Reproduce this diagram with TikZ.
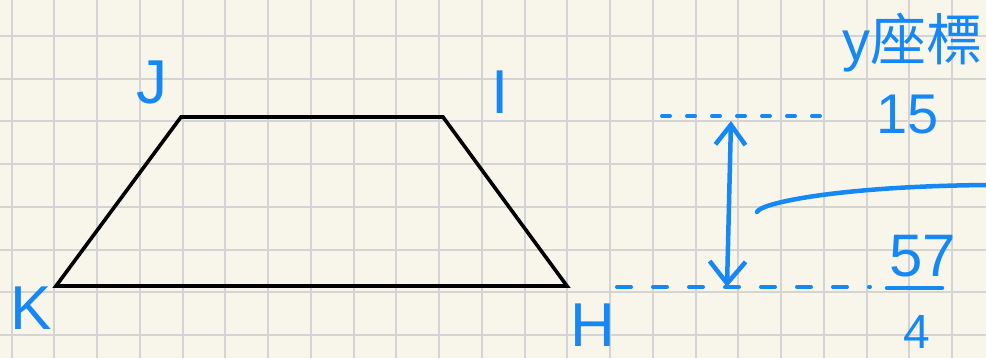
\documentclass[tikz,border=0pt]{standalone}
\usepackage{fontspec}
\setmainfont{Liberation Sans}
\newfontfamily\cjkfont{Noto Sans CJK TC}
\usetikzlibrary{arrows.meta}
\definecolor{paper}{RGB}{248,246,234}
\definecolor{gridc}{RGB}{212,212,212}
\definecolor{pen}{RGB}{22,136,245}
\begin{document}
\begin{tikzpicture}[x=1pt,y=-1pt,
  lbl/.style={text=pen, font=\fontsize{62}{62}\selectfont, inner sep=0pt},
  num/.style={text=pen, font=\fontsize{56}{56}\selectfont, inner sep=0pt},
  penline/.style={draw=pen, line width=4.5pt, line cap=round, line join=round},
  gridline/.style={draw=gridc, line width=2pt},
  shapeline/.style={draw=black, line width=3.6pt}]
\fill[paper] (0,0) rectangle (986,358);
\useasboundingbox (0,0) rectangle (986,358);
% grid
\foreach \k in {0,...,22} \draw[gridline] ({11.7+42.75*\k},0) -- ({11.7+42.75*\k},358);
\foreach \k in {0,...,7} \draw[gridline] (0,{36+42.75*\k}) -- (986,{36+42.75*\k});
% trapezoid
\coordinate (K) at (56,286);
\coordinate (J) at (181,117);
\coordinate (I) at (443,117);
\coordinate (H) at (567,286);
\draw[shapeline] (K) -- (J) -- (I) -- (H) -- cycle;
% vertex labels
\node[lbl] (lJ) at (152,82) {J};
\node[lbl] (lI) at (500,92) {I};
\node[lbl] (lK) at (31,308) {K};
\node[lbl] (lH) at (593,325) {H};
% heading
\node[text=pen, inner sep=0pt, font=\fontsize{56}{56}\selectfont] (head) at (912,43) {y\cjkfont 座標};
% dashed levels
\coordinate (d1a) at (662,116);
\coordinate (d1b) at (823,116);
\draw[penline, line width=4pt, dash pattern=on 8pt off 17pt] (d1a) -- (d1b);
\coordinate (d2a) at (617,287);
\coordinate (d2b) at (870,287);
\draw[penline, line width=4pt, dash pattern=on 14pt off 22pt] (d2a) -- (d2b);
% double arrow
\coordinate (atop) at (731,121);
\coordinate (abot) at (727,287);
\draw[penline, {Straight Barb[length=20pt,width=30pt]}-{Straight Barb[length=22pt,width=36pt]}] (atop) -- (abot);
% curve
\coordinate (c0) at (757,212);
\coordinate (c1) at (990,185);
\draw[penline] (c0) .. controls (760,203) and (840,186) .. (c1);
% values
\node[num] (v15) at (908,115) {15};
\node[num, font=\fontsize{60}{60}\selectfont] (v57) at (923,256) {57};
\coordinate (fb1) at (887,288);
\coordinate (fb2) at (942,288);
\draw[penline] (fb1) -- (fb2);
\node[num, font=\fontsize{48}{48}\selectfont] (v4) at (917,332) {4};
\end{tikzpicture}
\end{document}
